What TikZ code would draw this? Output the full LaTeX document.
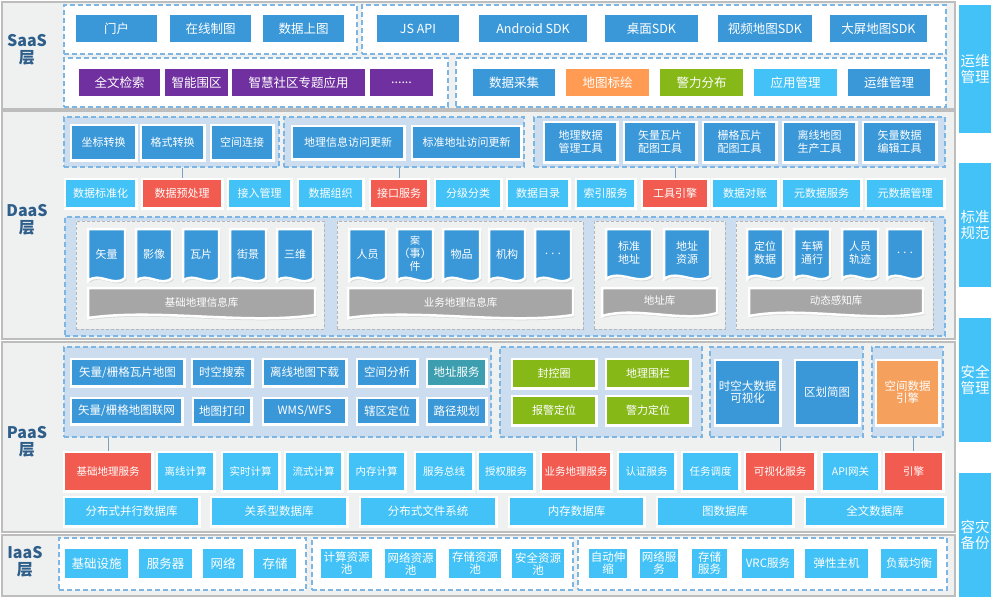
\documentclass[tikz,border=0pt]{standalone}
\usepackage{fontspec}
\setmainfont{Noto Sans CJK SC}
\usetikzlibrary{shadows}
\definecolor{cblue}{HTML}{3A98D9}
\definecolor{clight}{HTML}{42C2F7}
\definecolor{cred}{HTML}{F25B50}
\definecolor{cpurple}{HTML}{7030A0}
\definecolor{corange}{HTML}{FF9B52}
\definecolor{corangeb}{HTML}{F5A05C}
\definecolor{cgreen}{HTML}{86B817}
\definecolor{cteal}{HTML}{3C9EAE}
\definecolor{cfill}{HTML}{CCDDF0}
\definecolor{cdash}{HTML}{7DB6E2}
\definecolor{cpanel}{HTML}{EFF0F0}
\definecolor{cpanelline}{HTML}{BDBDBD}
\definecolor{cbanner}{HTML}{A6A6A6}
\definecolor{clabel}{HTML}{2E5E8A}
\definecolor{csub}{HTML}{B5B5B5}
\definecolor{cconn}{HTML}{7F9FBF}
\newcommand\mybox[7]{%
 \pgfmathsetmacro\bxcx{(#3+#5)/2}%
 \pgfmathsetmacro\bxcy{(#4+#6)/2}%
 \pgfmathsetmacro\bxw{#5-#3+2.5}%
 \pgfmathsetmacro\bxh{#6-#4+2.5}%
 \node[bx,#2,minimum width=\bxw pt,minimum height=\bxh pt] (#1) at (\bxcx,\bxcy) {#7};}
\newcommand\mycont[6]{%
 \pgfmathsetmacro\bxcx{(#3+#5)/2}%
 \pgfmathsetmacro\bxcy{(#4+#6)/2}%
 \pgfmathsetmacro\bxw{#5-#3}%
 \pgfmathsetmacro\bxh{#6-#4}%
 \node[#2,minimum width=\bxw pt,minimum height=\bxh pt] (#1) at (\bxcx,\bxcy) {};}
\newcommand\mydoc[7]{%
 \pgfmathsetmacro\dw{#5-#3}%
 \pgfmathsetmacro\dca{#3+0.3*\dw}%
 \pgfmathsetmacro\dcb{#3+0.7*\dw}%
 \pgfmathsetmacro\dcx{(#3+#5)/2}%
 \pgfmathsetmacro\dcy{(#4+#6)/2-2}%
 \path[#2] (#3,#4) -- (#5,#4) -- (#5,#6-5) .. controls (\dcb,#6+5) and (\dca,#6-12) .. (#3,#6-2) -- cycle;
 \node[doctx] (#1) at (\dcx,\dcy) {#7};}
\tikzset{
 bx/.style={draw=white, line width=2.5pt, text=white, inner sep=0pt, align=center,
   drop shadow={opacity=0.22, shadow xshift=1.5pt, shadow yshift=-2pt}},
 bblue/.style={fill=cblue}, blight/.style={fill=clight}, bred/.style={fill=cred},
 bpurple/.style={fill=cpurple}, borange/.style={fill=corange}, borangeb/.style={fill=corangeb},
 bgreen/.style={fill=cgreen}, bteal/.style={fill=cteal},
 fA/.style={font=\fontsize{12.5}{14}\selectfont},
 fB/.style={font=\fontsize{11}{12.5}\selectfont},
 fC/.style={font=\fontsize{10.5}{12}\selectfont},
 fD/.style={font=\fontsize{11.5}{12}\selectfont},
 fE/.style={font=\fontsize{14.5}{15.5}\selectfont},
 panel/.style={draw=cpanelline, line width=1.2pt, fill=cpanel, inner sep=0pt},
 ctw/.style={draw=cdash, dash pattern=on 5pt off 3pt, line width=1.1pt, fill=white, inner sep=0pt},
 ctb/.style={ctw, fill=cfill},
 ctg/.style={draw=csub, dash pattern=on 3pt off 2pt, line width=0.8pt, fill=cpanel, inner sep=0pt},
 docsh/.style={fill=cblue, draw=white, line width=2.5pt,
   drop shadow={opacity=0.22, shadow xshift=1.5pt, shadow yshift=-2pt}},
 bansh/.style={fill=cbanner, draw=white, line width=2.5pt,
   drop shadow={opacity=0.22, shadow xshift=1.5pt, shadow yshift=-2pt}},
 doctx/.style={text=white, align=center, inner sep=0pt, font=\fontsize{11}{13}\selectfont},
 lay/.style={text=clabel, align=center, inner sep=0pt, font=\fontsize{16}{17}\selectfont\bfseries},
 conn/.style={draw=cconn, line width=0.9pt}
}
\begin{document}
\begin{tikzpicture}[x=1pt,y=-1pt]
\useasboundingbox (0,0) rectangle (999,605);
\fill[white] (0,0) rectangle (999,605);
% ================= SaaS
\mycont{P1}{panel}{2}{2}{955}{109}
\node[lay] (L1) at (27,50) {SaaS\\层};
\mycont{s1}{ctw}{64}{5}{357}{54}
\mycont{s2}{ctw}{362}{5}{946}{54}
\mycont{s3}{ctw}{64}{58}{448}{107}
\mycont{s4}{ctw}{456}{58}{946}{107}
\mybox{sa1}{bblue,fA}{76}{15}{157}{42}{门户}
\mybox{sa2}{bblue,fA}{170}{15}{251}{42}{在线制图}
\mybox{sa3}{bblue,fA}{263}{15}{344}{42}{数据上图}
\mybox{sa4}{bblue,fA}{377}{15}{459}{42}{JS API}
\mybox{sa5}{bblue,fA}{479}{15}{587}{42}{Android SDK}
\mybox{sa6}{bblue,fA}{605}{15}{698}{42}{桌面SDK}
\mybox{sa7}{bblue,fA}{718}{15}{812}{42}{视频地图SDK}
\mybox{sa8}{bblue,fA}{830}{15}{927}{42}{大屏地图SDK}
\mybox{sb1}{bpurple,fA}{79}{69}{160}{96}{全文检索}
\mybox{sb2}{bpurple,fA}{165}{69}{228}{96}{智能围区}
\mybox{sb3}{bpurple,fA}{232}{69}{365}{96}{智慧社区专题应用}
\mybox{sb4}{bpurple,fA}{370}{69}{433}{96}{......}
\mybox{sb5}{bblue,fA}{473}{69}{555}{96}{数据采集}
\mybox{sb6}{borange,fA}{566}{69}{649}{96}{地图标绘}
\mybox{sb7}{bgreen,fA}{660}{69}{743}{96}{警力分布}
\mybox{sb8}{blight,fA}{754}{69}{837}{96}{应用管理}
\mybox{sb9}{bblue,fA}{848}{69}{930}{96}{运维管理}
% ================= DaaS
\mycont{P2}{panel}{2}{111}{955}{339}
\node[lay] (L2) at (27,220) {DaaS\\层};
\mycont{d1}{ctb}{64}{117}{279}{167}
\mycont{d2}{ctb}{284}{117}{524}{167}
\mycont{d3}{ctb}{534}{117}{945}{167}
\mybox{da1}{bblue,fB}{72}{126}{135}{159}{坐标转换}
\mybox{da2}{bblue,fB}{142}{126}{203}{159}{格式转换}
\mybox{da3}{bblue,fB}{212}{126}{272}{159}{空间连接}
\mybox{da4}{bblue,fB}{293}{127}{403}{158}{地理信息访问更新}
\mybox{da5}{bblue,fB}{413}{127}{520}{158}{标准地址访问更新}
\mybox{da6}{bblue,fB}{545}{123}{616}{161}{地理数据\\管理工具}
\mybox{da7}{bblue,fB}{625}{123}{695}{161}{矢量瓦片\\配图工具}
\mybox{da8}{bblue,fB}{704}{123}{775}{161}{栅格瓦片\\配图工具}
\mybox{da9}{bblue,fB}{784}{123}{855}{161}{离线地图\\生产工具}
\mybox{da10}{bblue,fB}{864}{123}{935}{161}{矢量数据\\编辑工具}
\mybox{db1}{blight,fB}{66}{180}{135}{207}{数据标准化}
\mybox{db2}{bred,fB}{143}{180}{221}{207}{数据预处理}
\mybox{db3}{blight,fB}{229}{180}{290}{207}{接入管理}
\mybox{db4}{blight,fB}{299}{180}{362}{207}{数据组织}
\mybox{db5}{bred,fB}{371}{180}{427}{207}{接口服务}
\mybox{db6}{blight,fB}{436}{180}{500}{207}{分级分类}
\mybox{db7}{blight,fB}{508}{180}{568}{207}{数据目录}
\mybox{db8}{blight,fB}{577}{180}{634}{207}{索引服务}
\mybox{db9}{bred,fB}{643}{180}{707}{207}{工具引擎}
\mybox{db10}{blight,fB}{713}{180}{777}{207}{数据对账}
\mybox{db11}{blight,fB}{783}{180}{860}{207}{元数据服务}
\mybox{db12}{blight,fB}{867}{180}{943}{207}{元数据管理}
\draw[conn] (db2.north) -- (db2.north |- d1.south);
\draw[conn] (db5.north) -- (db5.north |- d2.south);
\draw[conn] (db9.north) -- (db9.north |- d3.south);
\mycont{d4}{ctb}{65}{217}{945}{336}
\mycont{g1}{ctg}{76}{221}{324}{329}
\mycont{g2}{ctg}{337}{221}{583}{329}
\mycont{g3}{ctg}{594}{221}{725}{329}
\mycont{g4}{ctg}{736}{221}{933}{329}
\mydoc{dc1}{docsh}{88}{229}{125}{283}{矢量}
\mydoc{dc2}{docsh}{136}{229}{172}{283}{影像}
\mydoc{dc3}{docsh}{183}{229}{219}{283}{瓦片}
\mydoc{dc4}{docsh}{230}{229}{266}{283}{街景}
\mydoc{dc5}{docsh}{277}{229}{313}{283}{三维}
\mydoc{dc6}{docsh}{349}{229}{386}{283}{人员}
\mydoc{dc7}{docsh}{397}{229}{433}{283}{\fontsize{10}{11.5}\selectfont 案\\（事）\\件}
\mydoc{dc8}{docsh}{443}{229}{480}{283}{物品}
\mydoc{dc9}{docsh}{489}{229}{525}{283}{机构}
\mydoc{dc10}{docsh}{535}{229}{571}{283}{. . .}
\mydoc{dc11}{docsh}{606}{229}{652}{281}{标准\\地址}
\mydoc{dc12}{docsh}{664}{229}{710}{281}{地址\\资源}
\mydoc{dc13}{docsh}{747}{229}{783}{281}{定位\\数据}
\mydoc{dc14}{docsh}{794}{229}{830}{281}{车辆\\通行}
\mydoc{dc15}{docsh}{842}{229}{878}{281}{人员\\轨迹}
\mydoc{dc16}{docsh}{887}{229}{923}{281}{. . .}
\mydoc{bn1}{bansh}{88}{288}{315}{320}{\fontsize{10.5}{12}\selectfont 基础地理信息库}
\mydoc{bn2}{bansh}{348}{288}{573}{320}{\fontsize{10.5}{12}\selectfont 业务地理信息库}
\mydoc{bn3}{bansh}{602}{288}{717}{318}{\fontsize{10.5}{12}\selectfont 地址库}
\mydoc{bn4}{bansh}{749}{288}{923}{318}{\fontsize{10.5}{12}\selectfont 动态感知库}
% ================= PaaS
\mycont{P3}{panel}{2}{342}{955}{532}
\node[lay] (L3) at (27,442) {PaaS\\层};
\mycont{p1}{ctb}{64}{347}{491}{437}
\mycont{p2}{ctb}{500}{347}{702}{437}
\mycont{p3}{ctb}{710}{347}{863}{437}
\mycont{p4}{ctb}{872}{347}{943}{437}
\mybox{pa1}{bblue,fD}{72}{360}{183}{385}{矢量/栅格瓦片地图}
\mybox{pa2}{bblue,fD}{193}{360}{251}{385}{时空搜索}
\mybox{pa3}{bblue,fD}{264}{360}{345}{385}{离线地图下载}
\mybox{pa4}{bblue,fD}{358}{360}{416}{385}{空间分析}
\mybox{pa5}{bteal,fD}{428}{360}{485}{385}{地址服务}
\mybox{pa6}{bblue,fD}{72}{399}{181}{423}{矢量/栅格地图联网}
\mybox{pa7}{bblue,fD}{194}{399}{250}{423}{地图打印}
\mybox{pa8}{bblue,fD}{264}{399}{345}{423}{WMS/WFS}
\mybox{pa9}{bblue,fD}{358}{399}{416}{423}{辖区定位}
\mybox{pa10}{bblue,fD}{428}{399}{485}{423}{路径规划}
\mybox{pg1}{bgreen,fB}{513}{360}{595}{387}{封控圈}
\mybox{pg2}{bgreen,fB}{607}{360}{689}{387}{地理围栏}
\mybox{pg3}{bgreen,fB}{513}{397}{595}{424}{报警定位}
\mybox{pg4}{bgreen,fB}{607}{397}{689}{424}{警力定位}
\mybox{pv1}{bblue,fD}{716}{361}{779}{424}{时空大数据\\可视化}
\mybox{pv2}{bblue,fD}{796}{361}{858}{424}{区划简图}
\mybox{pe1}{borangeb,fD}{877}{361}{938}{424}{空间数据\\引擎}
\mybox{ps1}{bred,fC}{65}{453}{151}{490}{基础地理服务}
\mybox{ps2}{blight,fC}{158}{453}{213}{490}{离线计算}
\mybox{ps3}{blight,fC}{223}{453}{278}{490}{实时计算}
\mybox{ps4}{blight,fC}{286}{453}{341}{490}{流式计算}
\mybox{ps5}{blight,fC}{349}{453}{404}{490}{内存计算}
\mybox{ps6}{blight,fC}{416}{453}{472}{490}{服务总线}
\mybox{ps7}{blight,fC}{479}{453}{533}{490}{授权服务}
\mybox{ps8}{bred,fC}{542}{453}{610}{490}{业务地理服务}
\mybox{ps9}{blight,fC}{619}{453}{674}{490}{认证服务}
\mybox{ps10}{blight,fC}{683}{453}{738}{490}{任务调度}
\mybox{ps11}{bred,fC}{746}{453}{814}{490}{可视化服务}
\mybox{ps12}{blight,fC}{823}{453}{878}{490}{API网关}
\mybox{ps13}{bred,fC}{885}{453}{942}{490}{引擎}
\draw[conn] (ps1.north) -- (ps1.north |- p1.south);
\draw[conn] (ps8.north) -- (ps8.north |- p2.south);
\draw[conn] (ps11.north) -- (ps11.north |- p3.south);
\draw[conn] (ps13.north) -- (ps13.north |- p4.south);
\mybox{pd1}{blight,fD}{65}{498}{198}{525}{分布式并行数据库}
\mybox{pd2}{blight,fD}{212}{498}{346}{525}{关系型数据库}
\mybox{pd3}{blight,fD}{361}{498}{495}{525}{分布式文件系统}
\mybox{pd4}{blight,fD}{510}{498}{643}{525}{内存数据库}
\mybox{pd5}{blight,fD}{658}{498}{792}{525}{图数据库}
\mybox{pd6}{blight,fD}{806}{498}{944}{525}{全文数据库}
% ================= IaaS
\mycont{P4}{panel}{2}{535}{955}{596}
\node[lay] (L4) at (25,562) {IaaS\\层};
\mycont{i1}{ctw}{59}{538}{306}{590}
\mycont{i2}{ctw}{312}{538}{573}{590}
\mycont{i3}{ctw}{578}{538}{947}{590}
\mybox{ia1}{blight,fA}{65}{549}{128}{578}{基础设施}
\mybox{ia2}{blight,fA}{139}{549}{192}{578}{服务器}
\mybox{ia3}{blight,fA}{203}{549}{243}{578}{网络}
\mybox{ia4}{blight,fA}{254}{549}{296}{578}{存储}
\mybox{ib1}{blight,fD}{321}{549}{372}{578}{计算资源\\池}
\mybox{ib2}{blight,fD}{385}{549}{436}{578}{网络资源\\池}
\mybox{ib3}{blight,fD}{449}{549}{501}{578}{存储资源\\池}
\mybox{ib4}{blight,fD}{512}{549}{564}{578}{安全资源\\池}
\mybox{ic1}{blight,fD}{589}{549}{627}{578}{自动伸\\缩}
\mybox{ic2}{blight,fD}{640}{549}{678}{578}{网络服\\务}
\mybox{ic3}{blight,fD}{692}{549}{727}{578}{存储\\服务}
\mybox{ic4}{blight,fD}{742}{549}{794}{578}{VRC服务}
\mybox{ic5}{blight,fD}{805}{549}{868}{578}{弹性主机}
\mybox{ic6}{blight,fD}{881}{549}{937}{578}{负载均衡}
% ================= Sidebar
\mybox{r1}{blight,fE}{959}{5}{991}{133}{运维\\管理}
\mybox{r2}{blight,fE}{959}{163}{991}{287}{标准\\规范}
\mybox{r3}{blight,fE}{959}{318}{991}{442}{安全\\管理}
\mybox{r4}{blight,fE}{959}{473}{991}{597}{容灾\\备份}
\end{tikzpicture}
\end{document}
